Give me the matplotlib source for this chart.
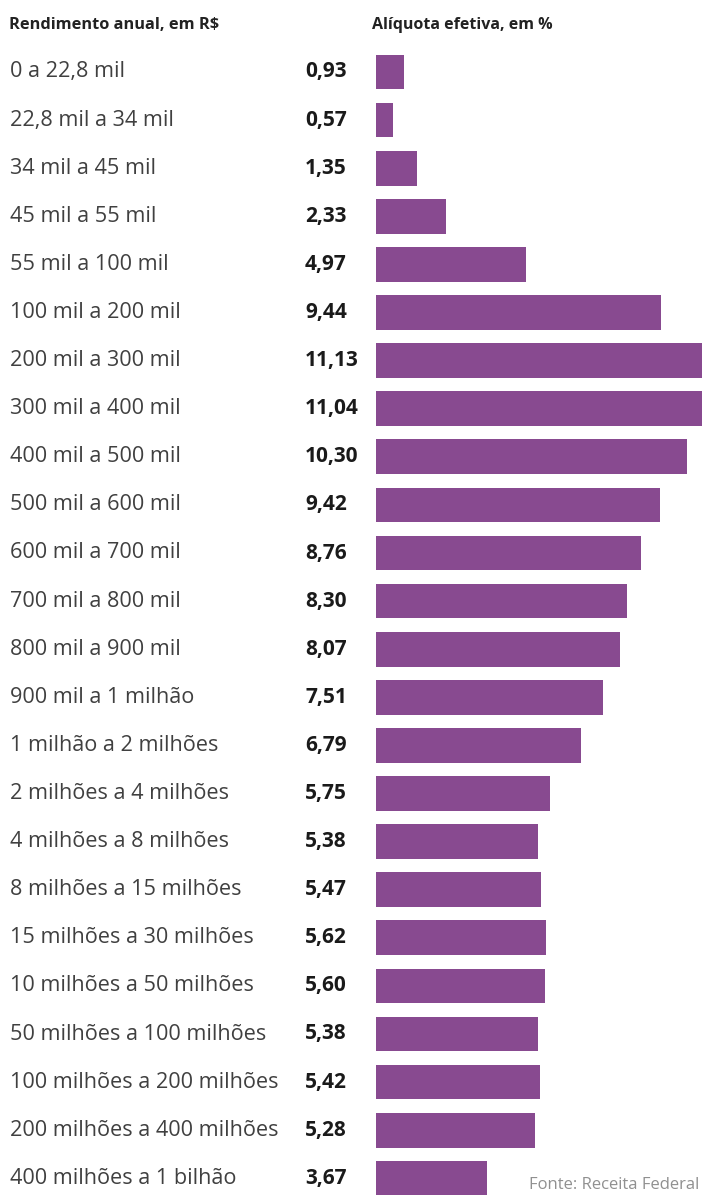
import numpy as np
import matplotlib
matplotlib.use('Agg')
import matplotlib.pyplot as plt
from matplotlib.transforms import blended_transform_factory

faixas = ['0 a 22,8 mil', '22,8 mil a 34 mil', '34 mil a 45 mil', '45 mil a 55 mil',
          '55 mil a 100 mil', '100 mil a 200 mil', '200 mil a 300 mil', '300 mil a 400 mil',
          '400 mil a 500 mil', '500 mil a 600 mil', '600 mil a 700 mil', '700 mil a 800 mil',
          '800 mil a 900 mil', '900 mil a 1 milhão', '1 milhão a 2 milhões',
          '2 milhões a 4 milhões', '4 milhões a 8 milhões', '8 milhões a 15 milhões',
          '15 milhões a 30 milhões', '10 milhões a 50 milhões', '50 milhões a 100 milhões',
          '100 milhões a 200 milhões', '200 milhões a 400 milhões', '400 milhões a 1 bilhão']
aliquota = [0.93, 0.57, 1.35, 2.33, 4.97, 9.44, 11.13, 11.04, 10.30, 9.42, 8.76, 8.30,
            8.07, 7.51, 6.79, 5.75, 5.38, 5.47, 5.62, 5.60, 5.38, 5.42, 5.28, 3.67]

W, H = 702, 1195
fig = plt.figure(figsize=(W/100., H/100.), dpi=100)
fig.patch.set_facecolor('white')

# bar area: from x=376px to right edge
x0 = 376
ax = fig.add_axes([x0/float(W), 0, (W - x0)/float(W), 1])
pxu = 30.2  # pixels per percent point
ax.set_xlim(0, (W - x0)/pxu)
y_first, step = 72, 48.1
ax.set_ylim((H - y_first)/step, -y_first/step)
ypos = np.arange(len(aliquota))
ax.barh(ypos, aliquota, height=0.72, color='#884a90')
ax.axis('off')

tr = blended_transform_factory(fig.transFigure, ax.transData)
fam = ['Open Sans', 'DejaVu Sans']
for i in range(len(faixas)):
    ax.text(10/float(W), i, faixas[i], transform=tr, ha='left', va='center',
            fontsize=15.6, color='#404040', family=fam)
    val = ('%.2f' % aliquota[i]).replace('.', ',')
    ax.text(305/float(W), i, val, transform=tr, ha='left', va='center',
            fontsize=15, fontweight='bold', color='#1a1a1a', family=fam)

fig.text(9/float(W), 1 - 25/float(H), 'Rendimento anual, em R$', ha='left', va='center',
         fontsize=11.8, fontweight='bold', color='#222222', family=fam)
fig.text(372/float(W), 1 - 25/float(H), 'Alíquota efetiva, em %', ha='left', va='center',
         fontsize=11.5, fontweight='bold', color='#222222', family=fam)
fig.text(699/float(W), 1 - 1185/float(H), 'Fonte: Receita Federal', ha='right', va='center',
         fontsize=12, color='#909090', family=fam)

plt.savefig('out.png', dpi=100)
